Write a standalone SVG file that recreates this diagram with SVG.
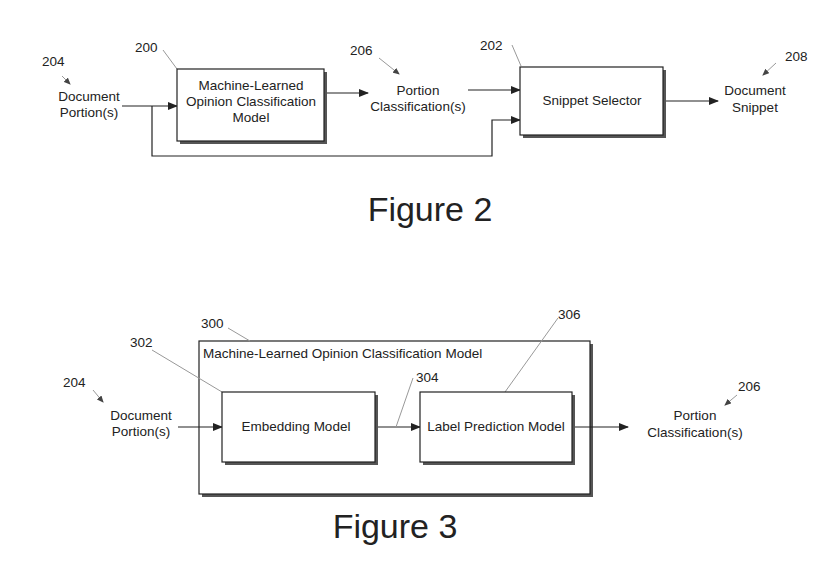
<svg xmlns="http://www.w3.org/2000/svg" width="834" height="564" viewBox="0 0 834 564">
<style>
text{font-family:"Liberation Sans",Arial,sans-serif;font-size:13.5px;fill:#222}
.c{text-anchor:middle}
.box{fill:#fff;stroke:#222;stroke-width:1.2}
.sh{fill:#555}
.ln{fill:none;stroke:#222;stroke-width:1.2}
.ld{fill:none;stroke:#999;stroke-width:1}
.fig{font-size:34px}
</style>
<defs>
<marker id="a" markerWidth="10" markerHeight="8" refX="9" refY="4" orient="auto" markerUnits="userSpaceOnUse"><path d="M0,0L10,4L0,8z" fill="#222"/></marker>
<marker id="s" markerWidth="7" markerHeight="6" refX="6" refY="3" orient="auto" markerUnits="userSpaceOnUse"><path d="M0,0L7,3L0,6z" fill="#444"/></marker>
</defs>
<g id="n300"><text x="201" y="328">300</text><rect class="sh" x="202" y="344" width="391" height="153"/><rect class="box" x="199" y="341" width="391" height="153"/><text x="203" y="358">Machine-Learned Opinion Classification Model</text></g>
<g id="connectors">
<path class="ln" d="M122,106H177" marker-end="url(#a)"/>
<path class="ln" d="M152,106V156H492V120H520" marker-end="url(#a)"/>
<path class="ln" d="M324,93H368" marker-end="url(#a)"/>
<path class="ln" d="M468,90H520" marker-end="url(#a)"/>
<path class="ln" d="M663,101H718" marker-end="url(#a)"/>
<path class="ln" d="M178,427H222" marker-end="url(#a)"/>
<path class="ln" d="M375,427H420" marker-end="url(#a)"/>
<path class="ln" d="M572,427H628" marker-end="url(#a)"/>
<path class="ld" d="M62,76L70,84" marker-end="url(#s)"/>
<path class="ld" d="M163,50L177,69"/>
<path class="ld" d="M379,58L399,74" marker-end="url(#s)"/>
<path class="ld" d="M512,45L521,66"/>
<path class="ld" d="M776,63L763,75" marker-end="url(#s)"/>
<path class="ld" d="M93,390L103,402" marker-end="url(#s)"/>
<path class="ld" d="M228,328L250,341"/>
<path class="ld" d="M152,350L222,392"/>
<path class="ld" d="M413,378L396,427"/>
<path class="ld" d="M558,318L505,392"/>
<path class="ld" d="M737,395L725,405" marker-end="url(#s)"/>
</g>
<g id="n204"><text x="42" y="66">204</text><text class="c" x="89" y="101">Document</text><text class="c" x="89" y="117">Portion(s)</text></g>
<g id="n200"><text x="135" y="52">200</text><rect class="sh" x="180" y="72" width="147" height="72"/><rect class="box" x="177" y="69" width="147" height="72"/><text class="c" x="251" y="90">Machine-Learned</text><text class="c" x="251" y="106">Opinion Classification</text><text class="c" x="251" y="122">Model</text></g>
<g id="n206"><text x="350" y="55">206</text><text class="c" x="418" y="95">Portion</text><text class="c" x="418" y="111">Classification(s)</text></g>
<g id="n202"><text x="480" y="50">202</text><rect class="sh" x="523" y="70" width="143" height="68"/><rect class="box" x="520" y="67" width="143" height="68"/><text class="c" x="592" y="105">Snippet Selector</text></g>
<g id="n208"><text x="785" y="61">208</text><text class="c" x="755" y="95">Document</text><text class="c" x="755" y="112">Snippet</text></g>
<text class="fig c" x="430" y="221">Figure 2</text>
<g id="f3n204"><text x="63" y="387">204</text><text class="c" x="141" y="420">Document</text><text class="c" x="141" y="436">Portion(s)</text></g>
<g id="n302"><text x="130" y="347">302</text><rect class="sh" x="225" y="395" width="153" height="70"/><rect class="box" x="222" y="392" width="153" height="70"/><text class="c" x="296" y="431">Embedding Model</text></g>
<g id="n304"><text x="416" y="382">304</text></g>
<g id="n306"><text x="558" y="319">306</text><rect class="sh" x="423" y="395" width="152" height="70"/><rect class="box" x="420" y="392" width="152" height="70"/><text class="c" x="496" y="431">Label Prediction Model</text></g>
<g id="f3n206"><text x="738" y="391">206</text><text class="c" x="695" y="420">Portion</text><text class="c" x="695" y="437">Classification(s)</text></g>
<text class="fig c" x="395" y="538">Figure 3</text>
</svg>
